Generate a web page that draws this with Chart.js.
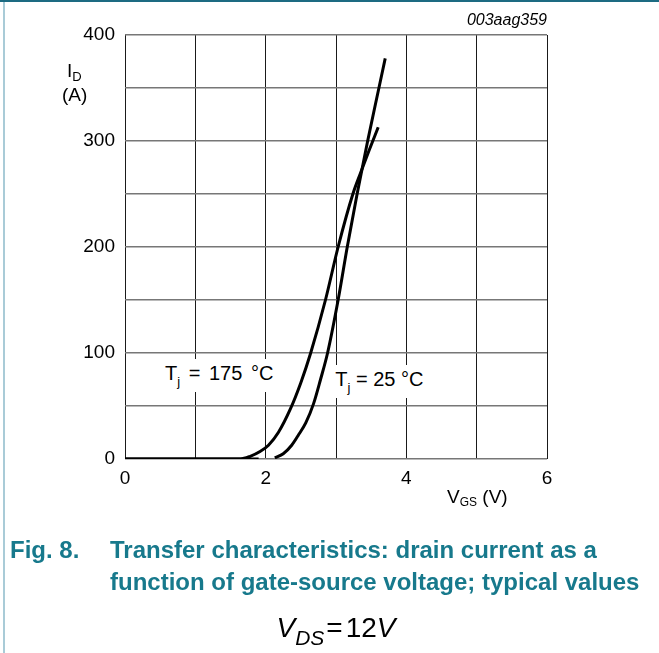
<!DOCTYPE html>
<html>
<head>
<meta charset="utf-8">
<script src="https://cdn.jsdelivr.net/npm/chart.js@4.4.1/dist/chart.umd.min.js"></script>
<style>
  body { margin: 0; background: #fff; }
  #wrap { position: relative; width: 659px; height: 653px; overflow: hidden; font-family: 'Liberation Sans', Arial, sans-serif; }
  #wrap canvas { position: absolute; left: 0; top: 0; }
  .topline { position: absolute; left: 0; top: 0; width: 659px; height: 2px; background: #1d6b82; }
  .leftline { position: absolute; left: 3px; top: 2px; width: 2px; height: 651px; background: #a9cbd7; }
  .txt { position: absolute; color: #000; white-space: nowrap; line-height: 1; }
  .note { position: absolute; background: #fff; font-size: 20px; line-height: 1; padding: 4px 3px; white-space: nowrap; }
  .note sub { font-size: 13px; vertical-align: -6px; }
  .cap { position: absolute; color: #17798c; font-weight: bold; font-size: 24px; white-space: nowrap; line-height: 1; }
  .vds { position: absolute; left: 0; width: 672px; top: 614px; text-align: center; font-size: 28px; line-height: 1; }
  .vds i sub { font-size: 21px; vertical-align: -8px; }
  .vds .eq { margin: 0 3px 0 2px; }
</style>
</head>
<body>
<div id="wrap">
  <canvas id="chart" width="659" height="653"></canvas>
  <div class="topline"></div>
  <div class="leftline"></div>
  <div class="txt" style="right:112px; top:12px; font-size:16px; font-style:italic;">003aag359</div>
  <div class="txt" style="left:67px; top:61px; font-size:19px;">I<span style="font-size:13px; position:relative; top:4px;">D</span></div>
  <div class="txt" style="left:62px; top:85px; font-size:19px;">(A)</div>
  <div class="txt" style="left:447px; top:487px; font-size:19px;">V<span style="font-size:12px; position:relative; top:3px;">GS</span> (V)</div>
  <div class="note" id="note175" style="word-spacing:3px;">T<sub>j</sub> = 175 °C</div>
  <div class="note" id="note25">T<sub>j</sub> = 25 °C</div>
  <div class="cap" style="left:10px; top:538px;">Fig. 8.</div>
  <div class="cap" style="left:110px; top:538px;">Transfer characteristics: drain current as a</div>
  <div class="cap" style="left:110px; top:570px;">function of gate-source voltage; typical values</div>
  <div class="vds"><i>V<sub>DS</sub></i><span class="eq">=</span>12<i>V</i></div>
</div>
<script>
// Tj = 175 °C  (VGS in V, ID in A)
const vgs175 = [0, 1.0, 1.64, 1.78, 1.92, 2.04, 2.18, 2.35, 2.5, 2.64, 2.85, 3.03, 3.24, 3.35, 3.47, 3.60];
const id175  = [0, 0, 0, 2.5, 7, 13, 25, 47, 72, 100, 150, 200, 250, 270, 291, 313];

// Tj = 25 °C (flat part, short break, then the rise)
const vgs25 = [0, 1.0, 1.9, 2.0, 2.13, 2.25, 2.37, 2.46, 2.57, 2.68, 2.78, 2.88, 3.03, 3.16, 3.30, 3.45, 3.61, 3.70];
const id25  = [0, 0, 0, null, 1, 5, 13, 22, 34, 52, 75, 100, 150, 200, 250, 300, 350, 378];

const xTicks = [0, 2, 4, 6];
const yTicks = [0, 100, 200, 300, 400];

// curve labels, anchored in data units (left edge, vertical centre)
const notes = [
    { id: 'note175', x: 0.57, y: 79 },
    { id: 'note25', x: 2.99, y: 73 }
];

const toPoints = (xs, ys) => xs.map((x, i) => ({ x: x, y: ys[i] }));

const placeNotes = {
    id: 'placeNotes',
    afterDraw(chart) {
        const sx = chart.scales.x, sy = chart.scales.y;
        notes.forEach(n => {
            const el = document.getElementById(n.id);
            el.style.left = (sx.getPixelForValue(n.x) - 3) + 'px';
            el.style.top = (sy.getPixelForValue(n.y) - el.offsetHeight / 2) + 'px';
        });
    }
};

const lineStyle = {
    borderColor: '#000',
    borderWidth: 3,
    pointRadius: 0,
    cubicInterpolationMode: 'monotone',
    spanGaps: false
};

const tickFont = { family: "'Liberation Sans', Arial, sans-serif", size: 19 };

new Chart(document.getElementById('chart'), {
    type: 'line',
    data: {
        datasets: [
            { label: 'Tj = 175 °C', data: toPoints(vgs175, id175), ...lineStyle },
            { label: 'Tj = 25 °C', data: toPoints(vgs25, id25), ...lineStyle }
        ]
    },
    options: {
        responsive: false,
        animation: false,
        layout: { padding: { top: 35, right: 112, left: 0, bottom: 0 } },
        plugins: { legend: { display: false }, tooltip: { enabled: false } },
        scales: {
            x: {
                type: 'linear',
                min: 0,
                max: 6,
                ticks: {
                    stepSize: 1,
                    autoSkip: false,
                    maxRotation: 0,
                    padding: 8,
                    color: '#000',
                    font: tickFont,
                    callback: v => xTicks.includes(v) ? String(v) : ''
                },
                grid: { color: '#1a1a1a', lineWidth: 1, drawTicks: false },
                border: { display: false },
                afterFit: s => { s.height = 194; }
            },
            y: {
                min: 0,
                max: 400,
                ticks: {
                    stepSize: 50,
                    padding: 10,
                    color: '#000',
                    font: tickFont,
                    callback: v => yTicks.includes(v) ? String(v) : ''
                },
                grid: { color: '#777', lineWidth: 1.5, drawTicks: false },
                border: { display: false },
                afterFit: s => { s.width = 125; }
            }
        }
    },
    plugins: [placeNotes]
});
</script>
</body>
</html>
